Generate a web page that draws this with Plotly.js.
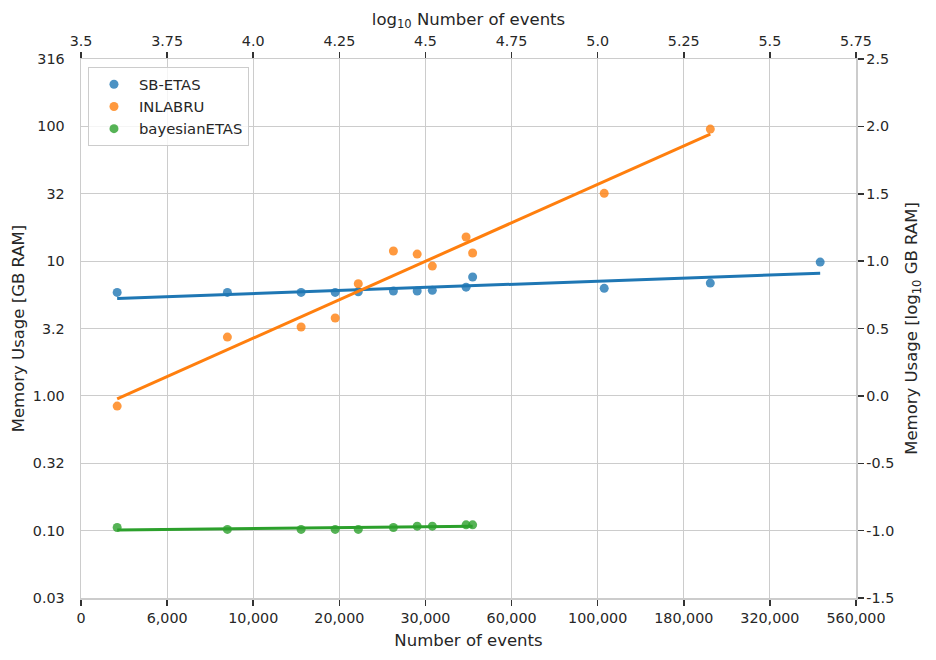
<!DOCTYPE html>
<html>
<head>
<meta charset="utf-8">
<script src="https://cdn.plot.ly/plotly-3.0.1.min.js"></script>
<style>
  html, body { margin: 0; padding: 0; background: #fff; }
  #chart { width: 936px; height: 660px; }
</style>
</head>
<body>
<div id="chart"></div>
<script>
// log10 of the number of events in each catalogue
var logEvents = [3.605, 3.925, 4.139, 4.238, 4.305, 4.407, 4.476, 4.520, 4.618, 4.637, 5.019, 5.327, 5.646];
// log10 of memory usage (GB RAM) per model
var sbEtas = [0.768, 0.768, 0.768, 0.768, 0.772, 0.778, 0.778, 0.783, 0.807, 0.882, 0.798, 0.837, 0.993];
var inlabru = [-0.076, 0.436, 0.511, 0.578, 0.832, 1.075, 1.052, 0.963, 1.179, 1.060, 1.503, 1.980];
var bayesianEtas = [-0.977, -0.991, -0.991, -0.991, -0.991, -0.977, -0.967, -0.967, -0.957, -0.957];

var xTicks = [3.5, 3.75, 4.0, 4.25, 4.5, 4.75, 5.0, 5.25, 5.5, 5.75];
var xTopLabels = ['3.5', '3.75', '4.0', '4.25', '4.5', '4.75', '5.0', '5.25', '5.5', '5.75'];
var xBottomLabels = ['0', '6,000', '10,000', '20,000', '30,000', '60,000', '100,000', '180,000', '320,000', '560,000'];
var yTicks = [-1.5, -1.0, -0.5, 0.0, 0.5, 1.0, 1.5, 2.0, 2.5];
var yLeftLabels = ['0.03', '0.10', '0.32', '1.00', '3.2', '10', '32', '100', '316'];
var yRightLabels = ['-1.5', '-1.0', '-0.5', '0.0', '0.5', '1.0', '1.5', '2.0', '2.5'];

var names = ['SB-ETAS', 'INLABRU', 'bayesianETAS'];
var colors = ['31,119,180', '255,127,14', '44,160,44'];
var series = [sbEtas, inlabru, bayesianEtas];

// least squares line over the range of the data, like regplot
function fitLine(x, y) {
  var n = y.length, mx = 0, my = 0, sxy = 0, sxx = 0;
  for (var i = 0; i < n; i++) { mx += x[i]; my += y[i]; }
  mx /= n; my /= n;
  for (var j = 0; j < n; j++) {
    sxy += (x[j] - mx) * (y[j] - my);
    sxx += (x[j] - mx) * (x[j] - mx);
  }
  var b = sxy / sxx, a = my - b * mx;
  var x0 = Math.min.apply(null, x), x1 = Math.max.apply(null, x);
  return {x: [x0, x1], y: [a + b * x0, a + b * x1]};
}

var data = [];
series.forEach(function (ys, k) {
  var xs = logEvents.slice(0, ys.length);
  data.push({
    x: xs, y: ys, name: names[k],
    type: 'scatter', mode: 'markers',
    marker: {size: 9, color: 'rgba(' + colors[k] + ',0.8)', line: {width: 0}},
    hoverinfo: 'skip'
  });
  var f = fitLine(xs, ys);
  data.push({
    x: f.x, y: f.y, type: 'scatter', mode: 'lines',
    line: {color: 'rgb(' + colors[k] + ')', width: 3},
    showlegend: false, hoverinfo: 'skip'
  });
});

// invisible trace so the top and right axes are drawn
data.push({
  x: [logEvents[0]], y: [sbEtas[0]], xaxis: 'x2', yaxis: 'y2',
  type: 'scatter', mode: 'markers', marker: {opacity: 0},
  showlegend: false, hoverinfo: 'skip'
});

var spine = {showline: true, linecolor: '#cccccc', linewidth: 1.5, zeroline: false, automargin: false};

var layout = {
  width: 936, height: 660,
  margin: {l: 81, r: 80, t: 59, b: 62, pad: 0},
  paper_bgcolor: '#ffffff', plot_bgcolor: '#ffffff',
  font: {family: 'DejaVu Sans', size: 14.3, color: '#262626'},
  showlegend: true,
  legend: {
    x: 0.009, y: 0.985, xanchor: 'left', yanchor: 'top',
    bgcolor: 'rgba(255,255,255,0.8)', bordercolor: '#cccccc', borderwidth: 1,
    itemwidth: 40, font: {size: 14.8}
  },
  xaxis: Object.assign({
    range: [3.5, 5.75], tickmode: 'array', tickvals: xTicks, ticktext: xBottomLabels,
    ticks: 'outside', ticklen: 6, tickwidth: 1.5, tickcolor: '#333333',
    showgrid: true, gridcolor: '#cccccc', gridwidth: 1.2,
    title: {text: 'Number of events', font: {size: 16.5}, standoff: 10}
  }, spine),
  xaxis2: Object.assign({
    overlaying: 'x', side: 'top', anchor: 'y',
    range: [3.5, 5.75], tickmode: 'array', tickvals: xTicks, ticktext: xTopLabels,
    ticks: 'outside', ticklen: 6, tickwidth: 1.5, tickcolor: '#333333',
    showgrid: false,
    title: {text: 'log<sub>10</sub> Number of events', font: {size: 16.5}, standoff: 3}
  }, spine),
  yaxis: Object.assign({
    range: [-1.5, 2.5], tickmode: 'array', tickvals: yTicks, ticktext: yLeftLabels,
    ticks: '', ticklabelstandoff: 12,
    showgrid: true, gridcolor: '#cccccc', gridwidth: 1.2,
    title: {text: 'Memory Usage [GB RAM]', font: {size: 16.5}, standoff: 4}
  }, spine),
  yaxis2: Object.assign({
    overlaying: 'y', side: 'right', anchor: 'x',
    range: [-1.5, 2.5], tickmode: 'array', tickvals: yTicks, ticktext: yRightLabels,
    ticks: 'outside', ticklen: 6, tickwidth: 1.5, tickcolor: '#333333',
    showgrid: false,
    title: {text: 'Memory Usage [log<sub>10</sub> GB RAM]', font: {size: 16.5}, standoff: 12}
  }, spine)
};

Plotly.newPlot('chart', data, layout, {displayModeBar: false, staticPlot: true});
</script>
</body>
</html>
